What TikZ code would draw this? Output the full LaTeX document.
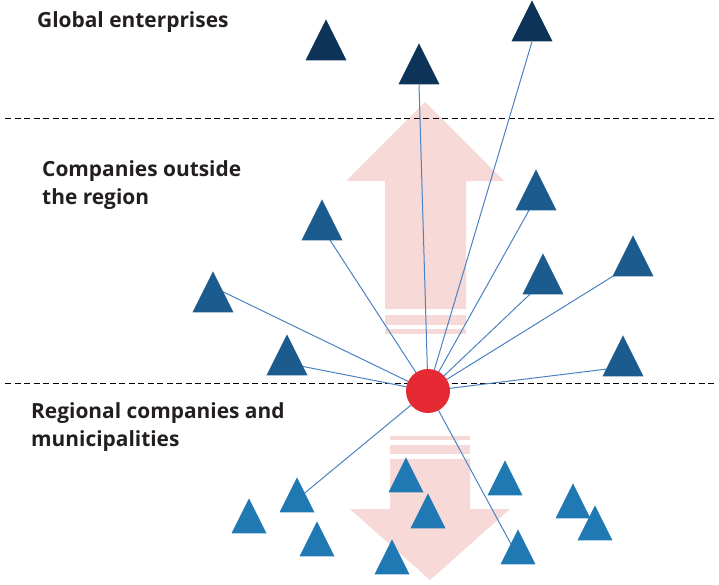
\documentclass[tikz,border=0pt]{standalone}
\usepackage{fontspec}
\setmainfont{Open Sans}
\usetikzlibrary{shapes.geometric,calc}
\definecolor{navy}{HTML}{0D3458}
\definecolor{midblue}{HTML}{1B5B8D}
\definecolor{lightblue}{HTML}{2179B4}
\definecolor{pinkarrow}{HTML}{F7DAD8}
\definecolor{linkblue}{HTML}{4A82C2}
\definecolor{hubred}{HTML}{E52A33}
\definecolor{txt}{HTML}{231F20}
\pgfdeclarelayer{arrows}
\pgfdeclarelayer{links}
\pgfsetlayers{arrows,links,main}
\tikzset{
  tri/.style={isosceles triangle, isosceles triangle apex angle=53.13,
    isosceles triangle stretches, shape border rotate=90, inner sep=0pt,
    minimum width=41pt, minimum height=41pt, anchor=apex, draw=none},
  tritop/.style={tri, fill=navy},
  trimid/.style={tri, fill=midblue},
  tribot/.style={tri, fill=lightblue, minimum width=35pt, minimum height=35pt},
  link/.style={draw=linkblue, line width=1pt},
  hub/.style={circle, fill=hubred, minimum size=44pt, inner sep=0pt},
  sep/.style={draw=black, line width=0.9pt, dash pattern=on 6pt off 3.5pt},
  label/.style={font=\fontsize{20.9}{28}\selectfont\bfseries, text=txt, align=left, anchor=base west, inner sep=0pt},
  band/.style={fill=pinkarrow, draw=none}
}
\begin{document}
\begin{tikzpicture}[x=1pt,y=-1pt]
\useasboundingbox (0,0) rectangle (719,584);
% labels (base anchor = last line baseline)
\node[label] (lglobal) at (37,27) {Global enterprises};
\node[label] (loutside) at (42,204) {Companies outside\\the region};
\node[label] (lregional) at (31,446) {Regional companies and\\municipalities};
% triangles
\node[tritop] (t1) at (326,19) {};
\node[tritop] (t2) at (419,43) {};
\node[tritop] (t3) at (532,0) {};
\node[trimid] (t4) at (322,199) {};
\node[trimid] (t5) at (213,271) {};
\node[trimid] (t6) at (287,334) {};
\node[trimid] (t7) at (536,169) {};
\node[trimid] (t8) at (543,253) {};
\node[trimid] (t9) at (633,235) {};
\node[trimid] (t10) at (623,335) {};
\node[tribot] (t11) at (249,498) {};
\node[tribot] (t12) at (297,477) {};
\node[tribot] (t13) at (317,521) {};
\node[tribot] (t14) at (392,539) {};
\node[tribot] (t15) at (406,457) {};
\node[tribot] (t16) at (428,493) {};
\node[tribot] (t17) at (505,460) {};
\node[tribot] (t18) at (518,529) {};
\node[tribot] (t19) at (573,483) {};
\node[tribot] (t20) at (595,505) {};
% hub
\node[hub] (h) at (428,391) {};
% pink arrows
\begin{pgfonlayer}{arrows}
\fill[band] (425,102) -- (504,181) -- (466,181) -- (466,309) -- (385,309) -- (385,181) -- (346,181) -- cycle;
\fill[band] (385,315) rectangle (466,325);
\fill[band] (385,329) rectangle (466,334);
\fill[band] (390,436) rectangle (470,440);
\fill[band] (390,445) rectangle (470,454);
\fill[band] (390,459) -- (470,459) -- (470,509) -- (510,509) -- (430,580) -- (350,509) -- (390,509) -- cycle;
\end{pgfonlayer}
% separators and links
\begin{pgfonlayer}{links}
\coordinate (s1l) at (5,118); \coordinate (s1r) at (716,118);
\coordinate (s2l) at (5,383); \coordinate (s2r) at (716,383);
\draw[sep] (s1l) -- (s1r);
\draw[sep] (s2l) -- (s2r);
\draw[link] (h.center) -- (t2.south);
\draw[link] (h.center) -- (t3.south);
\draw[link] (h.center) -- (t4.center);
\draw[link] (h.center) -- ($(t5.south east)!0.55!(t5.apex)$);
\draw[link] (h.center) -- ($(t6.south east)!0.25!(t6.apex)$);
\draw[link] (h.center) -- (t7.center);
\draw[link] (h.center) -- (t8.center);
\draw[link] (h.center) -- (t9.center);
\draw[link] (h.center) -- ($(t10.south west)!0.2!(t10.apex)$);
\draw[link] (h.center) -- ($(t12.south east)!0.5!(t12.apex)$);
\draw[link] (h.center) -- ($(t18.south west)!0.5!(t18.apex)$);
\end{pgfonlayer}
\end{tikzpicture}
\end{document}
